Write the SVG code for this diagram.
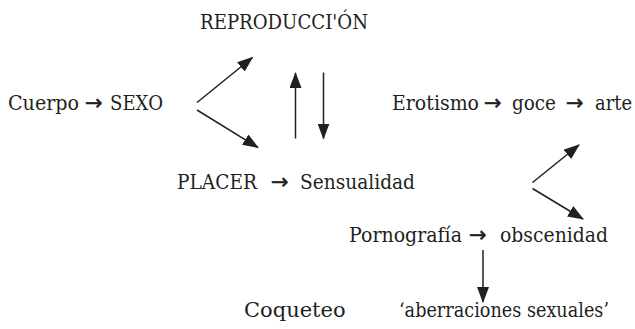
<svg xmlns="http://www.w3.org/2000/svg" width="635" height="329" viewBox="0 0 635 329">
<style>
text{font-family:"DejaVu Serif","Liberation Serif",serif;font-size:20px;fill:#231f20}
.ar{font-family:"DejaVu Sans",sans-serif;font-size:21px;stroke:#231f20;stroke-width:0.5}
.c line{stroke:#231f20;stroke-width:1.5;fill:none;marker-end:url(#ah)}
</style>
<defs>
<marker id="ah" markerUnits="userSpaceOnUse" markerWidth="16" markerHeight="12" refX="15" refY="6" orient="auto" viewBox="0 0 16 12">
<path d="M0,0 L16,6 L0,12 Z" fill="#231f20"/>
</marker>
</defs>
<rect width="635" height="329" fill="#fff"/>
<g id="n-cuerpo"><text y="110"><tspan x="8" textLength="71" lengthAdjust="spacingAndGlyphs">Cuerpo</tspan> <tspan class="ar" x="85">→</tspan> <tspan x="110" textLength="53" lengthAdjust="spacingAndGlyphs">SEXO</tspan></text></g>
<g id="n-repro"><text x="200" y="29" textLength="168" lengthAdjust="spacingAndGlyphs">REPRODUCCI'ÓN</text></g>
<g id="n-placer"><text y="189"><tspan x="177" textLength="80" lengthAdjust="spacingAndGlyphs">PLACER</tspan> <tspan class="ar" x="271">→</tspan> <tspan x="300" textLength="115" lengthAdjust="spacingAndGlyphs">Sensualidad</tspan></text></g>
<g id="n-erotismo"><text y="110"><tspan x="392" textLength="87" lengthAdjust="spacingAndGlyphs">Erotismo</tspan> <tspan class="ar" x="484">→</tspan> <tspan x="512" textLength="44" lengthAdjust="spacingAndGlyphs">goce</tspan> <tspan class="ar" x="566">→</tspan> <tspan x="595" textLength="37" lengthAdjust="spacingAndGlyphs">arte</tspan></text></g>
<g id="n-porno"><text y="242"><tspan x="349" textLength="113" lengthAdjust="spacingAndGlyphs">Pornografía</tspan> <tspan class="ar" x="469">→</tspan> <tspan x="500" textLength="108" lengthAdjust="spacingAndGlyphs">obscenidad</tspan></text></g>
<g id="n-coqueteo"><text x="244" y="317" style="font-size:21px">Coqueteo</text></g>
<g id="n-aberr"><text x="399" y="317" style="font-size:19.5px" textLength="210" lengthAdjust="spacingAndGlyphs">‘aberraciones sexuales’</text></g>
<g class="c" id="connectors">
<line x1="197" y1="102.5" x2="252.5" y2="57.5"/>
<line x1="197" y1="110" x2="258" y2="147.5"/>
<line x1="295.5" y1="138.5" x2="295.5" y2="73"/>
<line x1="323.5" y1="72.5" x2="323.5" y2="138.5"/>
<line x1="532.5" y1="182.5" x2="579" y2="145"/>
<line x1="532.5" y1="188.5" x2="583" y2="219"/>
<line x1="483" y1="250" x2="483" y2="302"/>
</g>
</svg>
